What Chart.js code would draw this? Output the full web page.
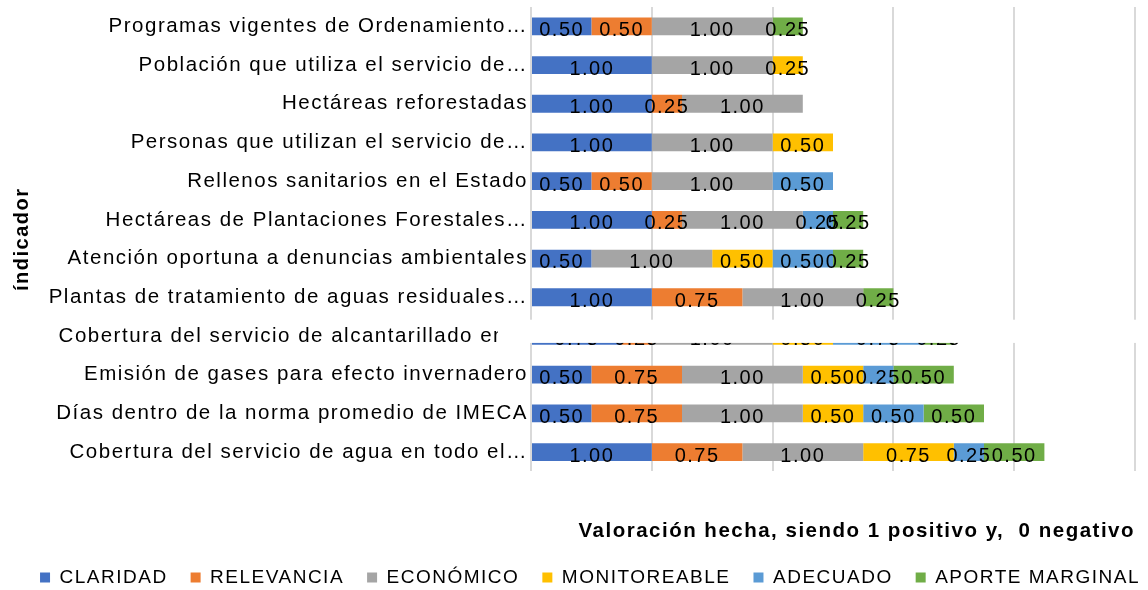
<!DOCTYPE html>
<html lang="es">
<head>
<meta charset="utf-8">
<title>Valoración de indicadores</title>
<script src="https://cdn.jsdelivr.net/npm/chart.js@4.4.1/dist/chart.umd.min.js"></script>
<style>
  html, body { margin: 0; padding: 0; background: #fff; }
  #wrap { width: 1148px; height: 590px; position: relative; }
</style>
</head>
<body>
<div id="wrap"><canvas id="chart"></canvas></div>
<script>
// Valoración de indicadores ambientales — barras apiladas por criterio.

const INDICADORES = [
  'Programas vigentes de Ordenamiento…',
  'Población que utiliza el servicio de…',
  'Hectáreas reforestadas',
  'Personas que utilizan el servicio de…',
  'Rellenos sanitarios en el Estado',
  'Hectáreas de Plantaciones Forestales…',
  'Atención oportuna a denuncias ambientales',
  'Plantas de tratamiento de aguas residuales…',
  'Cobertura del servicio de alcantarillado en…',
  'Emisión de gases para efecto invernadero',
  'Días dentro de la norma promedio de IMECA',
  'Cobertura del servicio de agua en todo el…'
];

// one array per criterio, same order as INDICADORES (null = no value)
const CLARIDAD        = [0.50, 1.00, 1.00, 1.00, 0.50, 1.00, 0.50, 1.00, 0.75, 0.50, 0.50, 1.00];
const RELEVANCIA      = [0.50, null, 0.25, null, 0.50, 0.25, null, 0.75, 0.25, 0.75, 0.75, 0.75];
const ECONOMICO       = [1.00, 1.00, 1.00, 1.00, 1.00, 1.00, 1.00, 1.00, 1.00, 1.00, 1.00, 1.00];
const MONITOREABLE    = [null, 0.25, null, 0.50, null, null, 0.50, null, 0.50, 0.50, 0.50, 0.75];
const ADECUADO        = [null, null, null, null, 0.50, 0.25, 0.50, null, 0.75, 0.25, 0.50, 0.25];
const APORTE_MARGINAL = [0.25, null, null, null, null, 0.25, 0.25, 0.25, 0.25, 0.50, 0.50, 0.50];

const SERIES = [
  { label: 'CLARIDAD', data: CLARIDAD, color: '#4472C4' },
  { label: 'RELEVANCIA', data: RELEVANCIA, color: '#ED7D31' },
  { label: 'ECONÓMICO', data: ECONOMICO, color: '#A5A5A5' },
  { label: 'MONITOREABLE', data: MONITOREABLE, color: '#FFC000' },
  { label: 'ADECUADO', data: ADECUADO, color: '#5B9BD5' },
  { label: 'APORTE MARGINAL', data: APORTE_MARGINAL, color: '#70AD47' }
];

const X_MAX = 5;
const HIDDEN_ROW = 8; // alcantarillado row is covered by a blank box in the original
const FONT = '"Liberation Sans", Arial, sans-serif';
const SPACING = '1.5px';
const LEGEND_SHIFT = 16;

// the source renders text a bit wider than canvas does
const letterSpacing = {
  id: 'letterSpacing',
  beforeUpdate(c) { c.ctx.letterSpacing = SPACING; },
  beforeDraw(c) { c.ctx.letterSpacing = SPACING; }
};

// legend in the original sits a little right of centre
const legendShift = {
  id: 'legendShift',
  afterLayout(c) { c.legend.left += LEGEND_SHIFT; c.legend.right += LEGEND_SHIFT; }
};

const valueLabels = {
  id: 'valueLabels',
  afterDatasetsDraw(chart) {
    const ctx = chart.ctx;
    ctx.save();
    ctx.font = '20px ' + FONT;
    ctx.fillStyle = '#000';
    ctx.textAlign = 'center';
    ctx.textBaseline = 'middle';
    chart.data.datasets.forEach((ds, i) => {
      const meta = chart.getDatasetMeta(i);
      if (meta.hidden) return;
      meta.data.forEach((bar, j) => {
        const v = ds.data[j];
        if (v == null) return;
        ctx.fillText(v.toFixed(2), (bar.x + bar.base) / 2, bar.y + 4);
      });
    });
    ctx.restore();
  }
};

const coverBox = {
  id: 'coverBox',
  afterDraw(chart) {
    const y = chart.scales.y, area = chart.chartArea;
    const c = y.getPixelForValue(HIDDEN_ROW);
    const row = y.height / INDICADORES.length;
    const ctx = chart.ctx;
    ctx.save();
    ctx.fillStyle = '#fff';
    ctx.fillRect(area.left - 33, c - 0.42 * row, area.right - area.left + 40, 0.6 * row);
    ctx.restore();
  }
};

new Chart(document.getElementById('chart'), {
  type: 'bar',
  data: {
    labels: INDICADORES,
    datasets: SERIES.map(s => ({
      label: s.label, data: s.data, backgroundColor: s.color, borderWidth: 0
    }))
  },
  options: {
    indexAxis: 'y',
    responsive: true, maintainAspectRatio: false,
    animation: false,
    layout: { padding: { top: 7, right: 0, bottom: -7, left: 0 } },
    datasets: { bar: { barPercentage: 0.46, categoryPercentage: 1 } },
    plugins: {
      legend: {
        position: 'bottom',
        labels: { boxWidth: 10, boxHeight: 10, padding: 23, color: '#000', font: { size: 19, family: FONT } }
      },
      tooltip: { enabled: false }
    },
    scales: {
      x: {
        stacked: true, min: 0, max: X_MAX,
        ticks: { display: false, stepSize: 1 },
        grid: { color: '#d9d9d9', lineWidth: 2, drawTicks: false },
        border: { display: false },
        title: {
          display: true, text: 'Valoración hecha, siendo 1 positivo y,  0 negativo', align: 'end',
          color: '#000', font: { size: 20.5, weight: 'bold', family: FONT }, padding: { top: 48, bottom: 1 }
        },
        afterFit(s) { s.paddingRight = 13; }
      },
      y: {
        stacked: true,
        grid: { display: false, drawTicks: false },
        border: { display: false },
        ticks: { color: '#000', padding: 3, font: { size: 20.5, family: FONT } },
        title: {
          display: true, text: 'índicador',
          color: '#000', font: { size: 20, weight: 'bold', family: FONT }, padding: { top: 10, bottom: 0 }
        },
        afterFit(s) { s.width = 531; s.paddingTop = 0; s.paddingBottom = 0; }
      }
    }
  },
  plugins: [letterSpacing, legendShift, valueLabels, coverBox]
});
</script>
</body>
</html>
